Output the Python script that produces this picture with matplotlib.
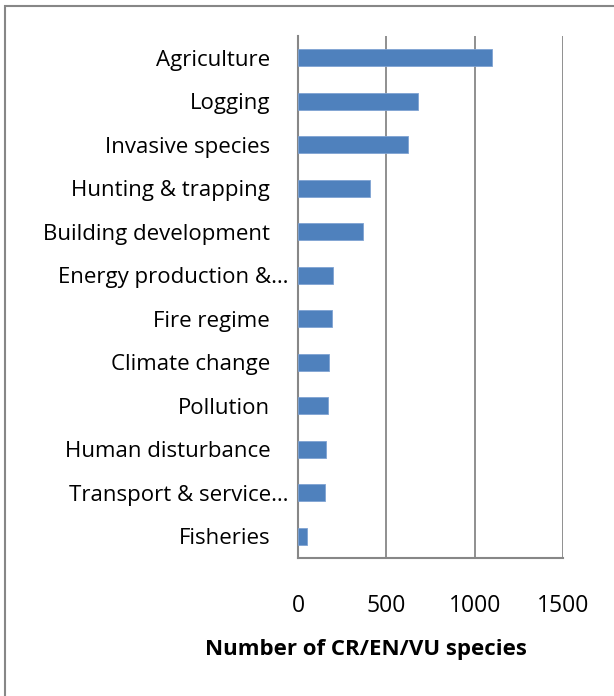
import matplotlib.pyplot as plt
from matplotlib.patches import Rectangle
from matplotlib.transforms import ScaledTranslation

threats = ["Agriculture", "Logging", "Invasive species", "Hunting & trapping",
           "Building development", "Energy production &…", "Fire regime",
           "Climate change", "Pollution", "Human disturbance",
           "Transport & service…", "Fisheries"]
species = [1100, 680, 620, 410, 370, 200, 190, 178, 168, 158, 150, 50]
x_ticks = [0, 500, 1000, 1500]

plt.rcParams['font.family'] = ['Open Sans', 'DejaVu Sans']
grey = "#878787"

fig = plt.figure(figsize=(6.14, 6.96), dpi=100)
ax = fig.add_axes([298/614, 1-558/696, 265/614, 522/696])

pos = list(range(len(threats)))
ax.barh(pos, species, height=0.39, color="#4F81BD", edgecolor="#7FA3D3", linewidth=0.6, zorder=3)
ax.set_ylim(len(threats)-0.5, -0.5)
ax.set_xlim(0, 1500)
ax.set_xticks(x_ticks)
ax.set_xticklabels([str(v) for v in x_ticks], fontsize=16.5)
ax.set_yticks(pos)
ax.set_yticklabels(threats, fontsize=16)
ax.tick_params(axis="both", length=0)
ax.tick_params(axis="y", pad=20)
ax.tick_params(axis="x", pad=26)

# truncated labels sit closer to the axis
for lbl in ax.get_yticklabels():
    if lbl.get_text().endswith("…"):
        lbl.set_transform(lbl.get_transform() + ScaledTranslation(18/100, 0, fig.dpi_scale_trans))

ax.grid(axis="x", color=grey, linewidth=1.3, zorder=0)
ax.grid(axis="y", visible=False)
for side in ["top", "right"]:
    ax.spines[side].set_visible(False)
for side in ["left", "bottom"]:
    ax.spines[side].set_color(grey)
    ax.spines[side].set_linewidth(1.5)

ax.set_xlabel("Number of CR/EN/VU species", fontsize=16, fontweight="bold")
ax.xaxis.set_label_coords((366-298)/265, -(639-558)/522)

# chart area frame
fig.patches.append(Rectangle((5/614, -0.1), 1.2, 1.1-6/696, transform=fig.transFigure,
                             fill=False, edgecolor=grey, linewidth=1.5))

fig.savefig("out.png", dpi=100)
